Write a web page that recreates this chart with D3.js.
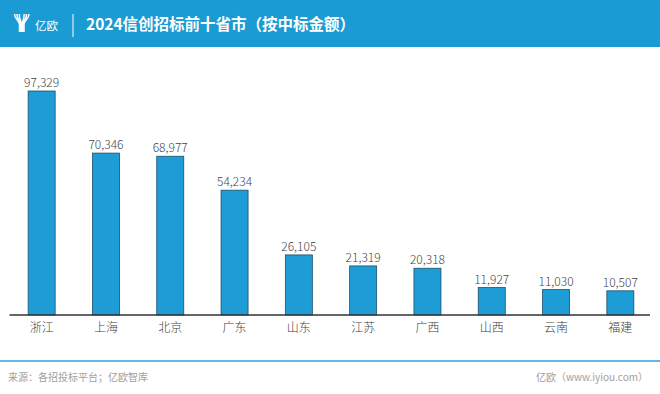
<!DOCTYPE html>
<html>
<head>
  <meta charset="utf-8">
  <title>2024信创招标前十省市</title>
  <script src="https://cdn.jsdelivr.net/npm/d3@7"></script>
  <style>
    body { margin: 0; background: #fff; }
    svg { display: block; font-family: "Noto Sans CJK SC", "Noto Sans", sans-serif; }
  </style>
</head>
<body>
  <svg width="660" height="394"></svg>
  <script>
    // chart data
    var provinces = ["浙江", "上海", "北京", "广东", "山东", "江苏", "广西", "山西", "云南", "福建"];
    var amounts = [97329, 70346, 68977, 54234, 26105, 21319, 20318, 11927, 11030, 10507];

    var title = "2024信创招标前十省市（按中标金额）";
    var source = "来源：各招投标平台；亿欧智库";
    var site = "亿欧（www.iyiou.com）";

    var svg = d3.select("svg");
    var blue = "#1b9bd3";

    // header band
    svg.append("rect")
      .attr("x", 0).attr("y", 0)
      .attr("width", 660).attr("height", 47)
      .attr("fill", blue);

    // logo mark: striped Y
    var logo = svg.append("g").attr("fill", "none").attr("stroke", "#fff").attr("stroke-width", 1.5);
    [0, 2.4, 4.8].forEach(function(o) {
      logo.append("path").attr("d", "M" + (14.5 + o) + ",14 C" + (14.5 + o) + "," + (19 + o * 0.3) + " " + (19.5 + o * 0.4) + ",21 " + (19.5 + o * 0.4) + ",24 L" + (19.5 + o * 0.4) + ",32");
      logo.append("path").attr("d", "M" + (29 - o) + ",14 C" + (29 - o) + "," + (19 + o * 0.3) + " " + (24 - o * 0.4) + ",21 " + (24 - o * 0.4) + ",24 L" + (24 - o * 0.4) + ",32");
    });

    svg.append("text")
      .attr("x", 35).attr("y", 30)
      .attr("fill", "#fff")
      .style("font-size", "11.5px")
      .text("亿欧");

    svg.append("line")
      .attr("x1", 73).attr("x2", 73)
      .attr("y1", 14).attr("y2", 37)
      .attr("stroke", "#fff").attr("stroke-width", 1);

    svg.append("text")
      .attr("x", 86).attr("y", 30)
      .attr("fill", "#fff")
      .style("font-size", "15.5px")
      .style("font-weight", "bold")
      .text(title);

    // scales
    var baseY = 315;
    var x = d3.scaleBand()
      .domain(provinces)
      .range([9.5, 652.5])
      .paddingInner(0.58)
      .paddingOuter(0.29);

    var y = d3.scaleLinear()
      .domain([0, d3.max(amounts)])
      .range([baseY, 91]);

    var rows = provinces.map(function(p, i) { return { name: p, value: amounts[i] }; });

    // bars
    svg.append("g")
      .selectAll("rect")
      .data(rows)
      .enter()
      .append("rect")
      .attr("x", function(d) { return x(d.name); })
      .attr("y", function(d) { return y(d.value); })
      .attr("width", x.bandwidth())
      .attr("height", function(d) { return baseY - y(d.value); })
      .attr("fill", "#1e9cd6")
      .attr("stroke", "#1d4f6b")
      .attr("stroke-width", 0.8);

    // value labels
    var fmt = d3.format(",");
    svg.append("g")
      .selectAll("text")
      .data(rows)
      .enter()
      .append("text")
      .attr("x", function(d) { return x(d.name) + x.bandwidth() / 2; })
      .attr("y", function(d) { return y(d.value) - 4; })
      .attr("text-anchor", "middle")
      .attr("fill", "#444")
      .style("font-size", "12px")
      .style("font-weight", "300")
      .text(function(d) { return fmt(d.value); });

    // x axis
    var axis = svg.append("g")
      .attr("transform", "translate(0," + baseY + ")")
      .call(d3.axisBottom(x).tickSize(0).tickPadding(8));
    axis.select(".domain").attr("stroke", "#333").attr("stroke-width", 1.5)
      .attr("d", "M9.5,0H650");
    axis.selectAll("text")
      .attr("fill", "#404040")
      .style("font-size", "12px")
      .style("font-weight", "300")
      .style("font-family", "Noto Sans CJK SC, sans-serif");

    // footer
    svg.append("line")
      .attr("x1", 0).attr("x2", 660)
      .attr("y1", 361).attr("y2", 361)
      .attr("stroke", "#2aa3d6").attr("stroke-width", 1.5);

    svg.append("text")
      .attr("x", 8).attr("y", 381)
      .attr("fill", "#a0a0a0")
      .style("font-size", "10px")
      .text(source);

    svg.append("text")
      .attr("x", 648).attr("y", 381)
      .attr("text-anchor", "end")
      .attr("fill", "#a0a0a0")
      .style("font-size", "10px")
      .text(site);
  </script>
</body>
</html>
